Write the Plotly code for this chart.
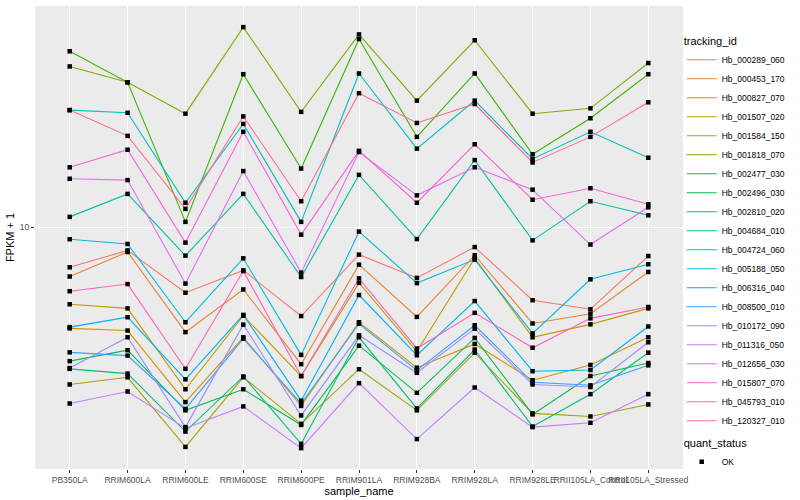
import plotly.graph_objects as go

samples = ["PB350LA", "RRIM600LA", "RRIM600LE", "RRIM600SE", "RRIM600PE", "RRIM901LA",
           "RRIM928BA", "RRIM928LA", "RRIM928LE", "RRII105LA_Control", "RRII105LA_Stressed"]

tracking_ids = ["Hb_000289_060", "Hb_000453_170", "Hb_000827_070", "Hb_001507_020",
                "Hb_001584_150", "Hb_001818_070", "Hb_002477_030", "Hb_002496_030",
                "Hb_002810_020", "Hb_004684_010", "Hb_004724_060", "Hb_005188_050",
                "Hb_006316_040", "Hb_008500_010", "Hb_010172_090", "Hb_011316_050",
                "Hb_012656_030", "Hb_015807_070", "Hb_045793_010", "Hb_120327_010"]

hb_000289_060 = [7.93, 8.74, 6.85, 7.79, 5.99, 8.53, 7.46, 8.91, 6.56, 6.23, 8.46]
hb_000453_170 = [7.52, 8.66, 5.46, 6.98, 4.54, 8.05, 5.96, 8.50, 5.74, 6.07, 7.72]
hb_000827_070 = [5.58, 5.51, 3.65, 5.30, 3.57, 5.78, 4.45, 5.10, 4.14, 4.52, 5.30]
hb_001507_020 = [6.41, 6.26, 3.93, 6.00, 4.24, 7.25, 4.89, 8.35, 5.30, 5.71, 6.26]
hb_001584_150 = [4.04, 4.21, 2.82, 4.21, 3.22, 4.41, 3.48, 4.85, 3.42, 3.36, 3.60]
hb_001818_070 = [25.2, 23.0, 19.2, 31.6, 19.4, 30.3, 20.7, 29.3, 19.2, 19.8, 25.7]
hb_002477_030 = [27.5, 23.0, 10.3, 24.1, 14.0, 29.5, 16.8, 24.2, 15.2, 18.7, 24.1]
hb_002496_030 = [4.62, 4.92, 3.48, 3.93, 3.20, 5.05, 3.85, 5.28, 3.40, 4.24, 4.57]
hb_002810_020 = [4.42, 4.30, 3.08, 4.23, 2.87, 5.30, 3.52, 4.94, 3.17, 3.82, 4.85]
hb_004684_010 = [10.6, 12.1, 8.48, 12.1, 7.50, 13.5, 9.33, 14.7, 9.26, 11.6, 10.7]
hb_004724_060 = [19.6, 19.3, 11.5, 18.1, 10.3, 24.2, 15.7, 20.7, 14.8, 17.3, 14.9]
hb_005188_050 = [9.32, 9.07, 5.78, 8.35, 4.79, 9.74, 7.24, 8.29, 5.42, 7.40, 8.07]
hb_006316_040 = [5.62, 5.95, 4.16, 6.03, 3.68, 6.76, 4.78, 6.53, 4.36, 4.39, 5.64]
hb_008500_010 = [4.86, 4.77, 3.51, 5.26, 3.62, 5.73, 4.38, 5.68, 4.09, 4.02, 4.51]
hb_010172_090 = [4.44, 5.30, 3.16, 5.70, 3.38, 5.36, 4.32, 5.57, 4.04, 3.98, 5.15]
hb_011316_050 = [3.62, 3.88, 3.14, 3.56, 2.80, 4.07, 2.95, 3.97, 3.16, 3.24, 3.82]
hb_012656_030 = [13.2, 13.1, 7.22, 13.8, 7.69, 15.4, 12.0, 14.1, 12.4, 9.04, 11.2]
hb_015807_070 = [14.1, 15.6, 9.14, 17.3, 9.57, 15.5, 11.5, 16.1, 11.7, 12.5, 11.4]
hb_045793_010 = [6.91, 7.20, 4.42, 7.76, 4.24, 7.44, 4.97, 6.10, 4.99, 5.91, 6.31]
hb_120327_010 = [19.6, 16.9, 11.1, 18.9, 11.6, 21.6, 18.2, 20.3, 14.5, 16.8, 20.5]

series_values = [hb_000289_060, hb_000453_170, hb_000827_070, hb_001507_020, hb_001584_150,
                 hb_001818_070, hb_002477_030, hb_002496_030, hb_002810_020, hb_004684_010,
                 hb_004724_060, hb_005188_050, hb_006316_040, hb_008500_010, hb_010172_090,
                 hb_011316_050, hb_012656_030, hb_015807_070, hb_045793_010, hb_120327_010]

colors = ["#F8766D", "#EA8331", "#D89000", "#C09B00", "#A3A500", "#7CAE00", "#39B600",
          "#00BB4E", "#00BF7D", "#00C1A3", "#00BFC4", "#00BAE0", "#00B0F6", "#35A2FF",
          "#9590FF", "#C77CFF", "#E76BF3", "#FA62DB", "#FF62BC", "#FF6C91"]

y_ticks = [10]
quant_status = "OK"

FONT = "Liberation Sans, Arial, Helvetica, sans-serif"

fig = go.Figure()
for name, vals, col in zip(tracking_ids, series_values, colors):
    fig.add_trace(go.Scatter(x=samples, y=vals, mode="lines", name=name,
                             line=dict(color=col, width=1.1), legend="legend"))

all_x = [s for vals in series_values for s in samples]
all_y = [v for vals in series_values for v in vals]
fig.add_trace(go.Scatter(x=all_x, y=all_y, mode="markers", name=quant_status,
                         marker=dict(symbol="square", size=4.5, color="black"),
                         legend="legend2"))

axis_common = dict(showgrid=True, gridcolor="white", gridwidth=1.1, zeroline=False,
                   showline=False, ticks="outside", ticklen=3, tickwidth=1,
                   tickcolor="#333333", tickfont=dict(size=8.5, color="#4D4D4D", family=FONT),
                   automargin=False)

fig.update_layout(
    width=800, height=500,
    margin=dict(l=35, r=117, t=6, b=31, autoexpand=False),
    plot_bgcolor="#EBEBEB", paper_bgcolor="white",
    font=dict(family=FONT, color="black"),
    xaxis=dict(type="category", categoryorder="array", categoryarray=samples,
               range=[-0.6, len(samples) - 0.4], tickangle=0,
               title=dict(text="sample_name", font=dict(size=11, color="black"), standoff=2),
               **axis_common),
    yaxis=dict(type="log", range=[0.395, 1.5525], tickvals=y_ticks,
               ticktext=[str(t) for t in y_ticks],
               title=dict(text="FPKM + 1", font=dict(size=11, color="black"), standoff=2),
               **axis_common),
    legend=dict(title=dict(text="tracking_id", font=dict(size=11)), font=dict(size=8.5),
                x=0.998, xanchor="left", y=0.946, yanchor="top", tracegroupgap=0,
                bgcolor="rgba(0,0,0,0)"),
    legend2=dict(title=dict(text="quant_status", font=dict(size=11)), font=dict(size=8.5),
                 x=0.998, xanchor="left", y=0.078, yanchor="top",
                 bgcolor="rgba(0,0,0,0)"),
    showlegend=True,
)

fig.write_html("out.html", config={"displayModeBar": False},
               post_script="document.body.style.margin='0';document.body.style.padding='0';")
